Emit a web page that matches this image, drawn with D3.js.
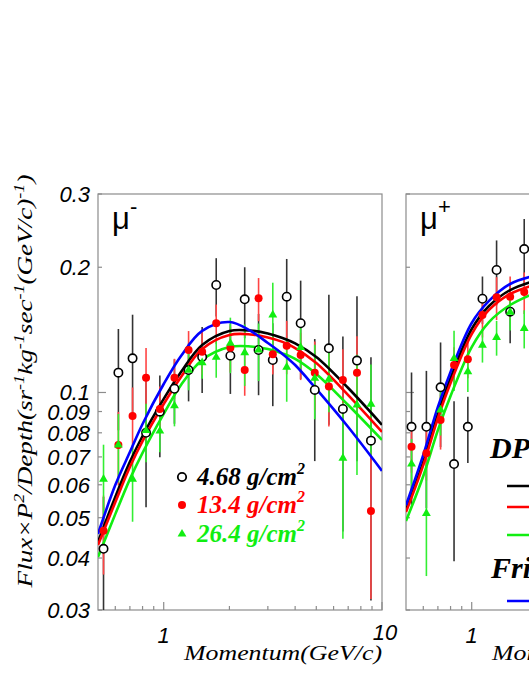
<!DOCTYPE html>
<html><head><meta charset="utf-8">
<script src="https://cdn.jsdelivr.net/npm/d3@7"></script>
<style>body{margin:0;background:#fff;} svg{display:block}</style>
</head><body>
<svg id="chart" width="529" height="684"></svg>
<script>
// ---------------- data ----------------
const binMomentum = [0.53, 0.62, 0.72, 0.83, 0.96, 1.12, 1.30, 1.50, 1.74, 2.02, 2.35, 2.72, 3.16, 3.66, 4.24, 4.92, 5.71, 6.62, 7.68, 8.90];

// mu-  (4.68, 13.4, 26.4 g/cm2)
const muMinus468    = [0.0421, 0.1116, 0.1208, 0.0800, 0.0899, 0.1021, 0.1132, 0.1217, 0.1813, 0.1226, 0.1675, 0.1265, 0.1197, 0.1699, 0.1467, 0.1014, 0.1277, 0.0913, 0.1193, 0.0766];
const muMinus468Err = [0.014, 0.0305, 0.033, 0.027, 0.020, 0.018, 0.018, 0.022, 0.029, 0.0234, 0.0325, 0.028, 0.027, 0.0395, 0.039, 0.033, 0.044, 0.045, 0.051, 0.045];
const muMinus134    = [0.0465, 0.0748, 0.0878, 0.1085, 0.0913, 0.1085, 0.1265, 0.1253, 0.1467, 0.1281, 0.1132, 0.1684, 0.1235, 0.1296, 0.1231, 0.1116, 0.1033, 0.1071, 0.1116, 0.0519];
const muMinus134Err = [0.010, 0.015, 0.015, 0.0195, 0.012, 0.012, 0.014, 0.015, 0.016, 0.016, 0.015, 0.020, 0.013, 0.019, 0.016, 0.021, 0.0205, 0.020, 0.025, 0.020];
const muMinus264    = [0.0619, 0.0748, 0.0619, 0.0810, 0.0808, 0.0929, 0.1132, 0.1179, 0.1215, 0.1313, 0.1247, 0.1265, 0.1536, 0.1150, 0.1283, 0.1082, 0.1076, 0.0695, 0.0933, 0.0937];
const muMinus264Err = [0.013, 0.014, 0.013, 0.013, 0.009, 0.010, 0.012, 0.010, 0.013, 0.020, 0.021, 0.020, 0.030, 0.020, 0.016, 0.022, 0.018, 0.025, 0.030, 0.023];

// mu+ (only the visible bins)
const muPlus468    = [0.0827, 0.0827, 0.1029, 0.0673, 0.0827, 0.1680, 0.1970, 0.1564, 0.2212];
const muPlus468Err = [0.029, 0.030, 0.029, 0.028, 0.015, 0.022, 0.035, 0.025, 0.040];
const muPlus134    = [0.0741, 0.0714, 0.0859, 0.1164, 0.1202, 0.1536, 0.1693, 0.1699, 0.1744];
const muPlus134Err = [0.010, 0.010, 0.013, 0.012, 0.012, 0.018, 0.020, 0.020, 0.020];
const muPlus264    = [0.0673, 0.0512, 0.0908, 0.1208, 0.1122, 0.1300, 0.1356, 0.1560, 0.1426];
const muPlus264Err = [0.010, 0.015, 0.012, 0.020, 0.012, 0.012, 0.013, 0.015, 0.015];

// model curves
const curveMomentum = [0.5, 0.6, 0.7, 0.8, 1.0, 1.2, 1.5, 2.0, 2.5, 3.0, 3.5, 4.0, 5.0, 7.0, 10.0];
const muMinusDpm468 = [0.0437, 0.0561, 0.0681, 0.0786, 0.0965, 0.1120, 0.1301, 0.1406, 0.1409, 0.1386, 0.1352, 0.1312, 0.1217, 0.1025, 0.0836];
const muMinusDpm134 = [0.0430, 0.0545, 0.0662, 0.0764, 0.0938, 0.1090, 0.1272, 0.1375, 0.1379, 0.1356, 0.1323, 0.1279, 0.1177, 0.0986, 0.0804];
const muMinusDpm264 = [0.0402, 0.0510, 0.0619, 0.0716, 0.0888, 0.1042, 0.1197, 0.1286, 0.1290, 0.1272, 0.1241, 0.1204, 0.1108, 0.0933, 0.0769];
const muMinusFri    = [0.0457, 0.0599, 0.0719, 0.0840, 0.1048, 0.1224, 0.1406, 0.1477, 0.1406, 0.1315, 0.1238, 0.1164, 0.1020, 0.0826, 0.0648];

const curveMomentumPlus = [0.5, 0.6, 0.7, 0.8, 1.0, 1.2, 1.5, 2.0];
const muPlusDpm468 = [0.0522, 0.0681, 0.0888, 0.1084, 0.1421, 0.1614, 0.1763, 0.1864];
const muPlusDpm134 = [0.0516, 0.0669, 0.0868, 0.1054, 0.1382, 0.1579, 0.1725, 0.1823];
const muPlusDpm264 = [0.0491, 0.0630, 0.0812, 0.0981, 0.1286, 0.1477, 0.1623, 0.1744];
const muPlusFri    = [0.0536, 0.0708, 0.0923, 0.1120, 0.1469, 0.1660, 0.1823, 0.1916];

const yTickValues = [0.03, 0.04, 0.05, 0.06, 0.07, 0.08, 0.09, 0.1, 0.2, 0.3];
const yTickLabels = ["0.03", "0.04", "0.05", "0.06", "0.07", "0.08", "0.09", "0.1", "0.2", "0.3"];
const xTickValues = [0.6, 0.7, 0.8, 0.9, 1, 2, 3, 4, 5, 6, 7, 8, 9, 10];
const xTickLabelValues = [1, 10];
const xTickLabels = ["1", "10"];
const depthLabels = ["4.68 g/cm", "13.4 g/cm", "26.4 g/cm"];
const modelNames = ["DPMJET-III", "Fritiof 7.02"];
const panelLabels = [["\u03bc", "-"], ["\u03bc", "+"]];

// ---------------- drawing ----------------
const svg = d3.select("#chart");
const COL = {black: "#000000", red: "#ff0000", green: "#11ee11", blue: "#0000ff"};
const BAR = {black: "#333333", red: "#ff4444", green: "#33ee33"};
const plotTop = 194, plotBottom = 610, plotW = 284;
const y = d3.scaleLog().domain([0.03, 0.3]).range([plotBottom, plotTop]);
const defs = svg.append("defs");

function drawPanel(idx, x0, series, curves, curveX, showYLabels, showX10) {
  const x = d3.scaleLog().domain([0.5, 10]).range([x0, x0 + plotW]);
  const g = svg.append("g");
  const clipId = "clip" + idx;
  defs.append("clipPath").attr("id", clipId).append("rect")
    .attr("x", x0).attr("y", plotTop).attr("width", plotW).attr("height", plotBottom - plotTop);

  g.append("rect").attr("x", x0).attr("y", plotTop).attr("width", plotW).attr("height", plotBottom - plotTop)
    .attr("fill", "none").attr("stroke", "#8c8c8c").attr("stroke-width", 1.2);

  g.selectAll(".yt").data(yTickValues).join("line")
    .attr("x1", x0).attr("x2", d => x0 + (d === 0.1 ? 8 : 4))
    .attr("y1", d => y(d)).attr("y2", d => y(d))
    .attr("stroke", "#8c8c8c").attr("stroke-width", 1.2);
  g.selectAll(".xt").data(xTickValues).join("line")
    .attr("x1", d => x(d)).attr("x2", d => x(d))
    .attr("y1", plotBottom).attr("y2", d => plotBottom - ((d === 1 || d === 10) ? 8 : 4))
    .attr("stroke", "#8c8c8c").attr("stroke-width", 1.2);

  if (showYLabels) {
    g.selectAll(".yl").data(yTickValues).join("text")
      .attr("x", x0 - 8).attr("y", d => y(d) + 8)
      .attr("text-anchor", "end")
      .attr("font-family", "Liberation Sans, Arial, sans-serif").attr("font-style", "italic")
      .attr("font-size", 22).attr("fill", "#000")
      .text((d, i) => yTickLabels[i]);
  }
  g.selectAll(".xl").data(xTickLabelValues.filter(v => showX10 || v !== 10)).join("text")
    .attr("x", d => x(d) + (d === 10 ? 3 : 0)).attr("y", d => d === 10 ? 640 : 643)
    .attr("text-anchor", "middle")
    .attr("font-family", "Liberation Sans, Arial, sans-serif").attr("font-style", "italic")
    .attr("font-size", 22).attr("fill", "#000")
    .text(d => xTickLabels[xTickLabelValues.indexOf(d)]);

  const inner = g.append("g").attr("clip-path", `url(#${clipId})`);

  series.forEach(s => {
    inner.selectAll(null).data(s.vals.map((v, i) => ({p: binMomentum[i], v, e: s.errs[i]}))).join("line")
      .attr("x1", d => x(d.p)).attr("x2", d => x(d.p))
      .attr("y1", d => y(d.v + d.e)).attr("y2", d => y(Math.max(d.v - d.e, 0.005)))
      .attr("stroke", BAR[s.color]).attr("stroke-width", 1.6);
  });

  const line = d3.line().x(d => x(d[0])).y(d => y(d[1])).curve(d3.curveCatmullRom.alpha(0.5));
  curves.forEach(c => {
    inner.append("path").datum(c.vals.map((v, i) => [curveX[i], v]))
      .attr("d", line).attr("fill", "none").attr("stroke", COL[c.color]).attr("stroke-width", 2.6);
  });

  series.forEach(s => {
    const pts = s.vals.map((v, i) => ({p: binMomentum[i], v}));
    if (s.marker === "open") {
      inner.selectAll(null).data(pts).join("circle")
        .attr("cx", d => x(d.p)).attr("cy", d => y(d.v)).attr("r", 4.2)
        .attr("fill", "#fff").attr("stroke", "#000").attr("stroke-width", 1.6);
    } else if (s.marker === "dot") {
      inner.selectAll(null).data(pts).join("circle")
        .attr("cx", d => x(d.p)).attr("cy", d => y(d.v)).attr("r", 4)
        .attr("fill", COL.red);
    } else {
      inner.selectAll(null).data(pts).join("path")
        .attr("transform", d => `translate(${x(d.p)},${y(d.v)})`)
        .attr("d", d3.symbol().type(d3.symbolTriangle).size(34)())
        .attr("fill", COL.green);
    }
  });

  const lab = g.append("text").attr("x", x0 + 14).attr("y", plotTop + 35)
    .attr("font-family", "Liberation Sans, Arial, sans-serif").attr("font-size", 31).attr("fill", "#000");
  lab.append("tspan").text(panelLabels[idx][0]);
  lab.append("tspan").attr("dy", -15).attr("font-size", 22).text(panelLabels[idx][1]);

  const xt = g.append("text").attr("transform", `translate(${x0 + plotW},660)`)
    .attr("text-anchor", "end").attr("font-family", "Liberation Serif, Times New Roman, serif")
    .attr("font-style", "italic").attr("font-size", 22).attr("fill", "#000").text("Momentum(GeV/c)");
  const w = xt.node().getComputedTextLength();
  xt.attr("transform", `translate(${x0 + plotW},660) scale(${198 / w},1)`);
  return x;
}

const seriesMinus = [
  {vals: muMinus468, errs: muMinus468Err, color: "black", marker: "open"},
  {vals: muMinus134, errs: muMinus134Err, color: "red", marker: "dot"},
  {vals: muMinus264, errs: muMinus264Err, color: "green", marker: "tri"}
];
const curvesMinus = [
  {vals: muMinusDpm468, color: "black"},
  {vals: muMinusDpm134, color: "red"},
  {vals: muMinusDpm264, color: "green"},
  {vals: muMinusFri, color: "blue"}
];
const seriesPlus = [
  {vals: muPlus468, errs: muPlus468Err, color: "black", marker: "open"},
  {vals: muPlus134, errs: muPlus134Err, color: "red", marker: "dot"},
  {vals: muPlus264, errs: muPlus264Err, color: "green", marker: "tri"}
];
const curvesPlus = [
  {vals: muPlusDpm468, color: "black"},
  {vals: muPlusDpm134, color: "red"},
  {vals: muPlusDpm264, color: "green"},
  {vals: muPlusFri, color: "blue"}
];

drawPanel(0, 98, seriesMinus, curvesMinus, curveMomentum, true, true);
drawPanel(1, 406, seriesPlus, curvesPlus, curveMomentumPlus, false, false);

// y-axis title
const segs = [["Flux\u00d7P", 0], ["2", 1], ["/Depth(sr", 0], ["-1", 1], ["kg", 0], ["-1", 1], ["sec", 0], ["-1", 1], ["(GeV/c)", 0], ["-1", 1], [")", 0]];
const yt = svg.append("text").attr("text-anchor", "middle")
  .attr("font-family", "Liberation Serif, Times New Roman, serif").attr("font-style", "italic")
  .attr("font-size", 21).attr("fill", "#000");
let up = false;
segs.forEach(([t, sup]) => {
  const ts = yt.append("tspan").text(t);
  if (sup && !up) { ts.attr("dy", -8).attr("font-size", 14); up = true; }
  else if (sup) { ts.attr("font-size", 14); }
  else if (up) { ts.attr("dy", 8); up = false; }
});
const yw = yt.node().getComputedTextLength();
yt.attr("transform", `translate(32,381) rotate(-90) scale(${413 / yw},1)`);

// legend (data points)
const legY = [477, 505, 534];
const lg = svg.append("g");
lg.append("circle").attr("cx", 182).attr("cy", legY[0]).attr("r", 4.2).attr("fill", "#fff").attr("stroke", "#000").attr("stroke-width", 1.8);
lg.append("circle").attr("cx", 182).attr("cy", legY[1]).attr("r", 4).attr("fill", COL.red);
lg.append("path").attr("transform", `translate(182,${legY[2]})`).attr("d", d3.symbol().type(d3.symbolTriangle).size(34)()).attr("fill", COL.green);
const legCols = ["#000", COL.red, COL.green];
depthLabels.forEach((t, i) => {
  const tx = lg.append("text").attr("x", 197).attr("y", legY[i] + 8)
    .attr("font-family", "Liberation Serif, Times New Roman, serif").attr("font-style", "italic").attr("font-weight", "bold")
    .attr("font-size", 25).attr("fill", legCols[i]);
  tx.append("tspan").text(t);
  tx.append("tspan").attr("dy", -11).attr("font-size", 16).text("2");
});

// legend (models), right panel
const mg = svg.append("g");
mg.append("text").attr("x", 490).attr("y", 458).attr("font-family", "Liberation Serif, Times New Roman, serif")
  .attr("font-style", "italic").attr("font-weight", "bold").attr("font-size", 30).attr("fill", "#000").text(modelNames[0]);
mg.append("text").attr("x", 491).attr("y", 578).attr("font-family", "Liberation Serif, Times New Roman, serif")
  .attr("font-style", "italic").attr("font-weight", "bold").attr("font-size", 30).attr("fill", "#000").text(modelNames[1]);
[[486, COL.black], [507, COL.red], [535, COL.green], [601, COL.blue]].forEach(([yy, c]) => {
  mg.append("line").attr("x1", 507).attr("x2", 560).attr("y1", yy).attr("y2", yy).attr("stroke", c).attr("stroke-width", 2.6);
});
</script>
</body></html>
